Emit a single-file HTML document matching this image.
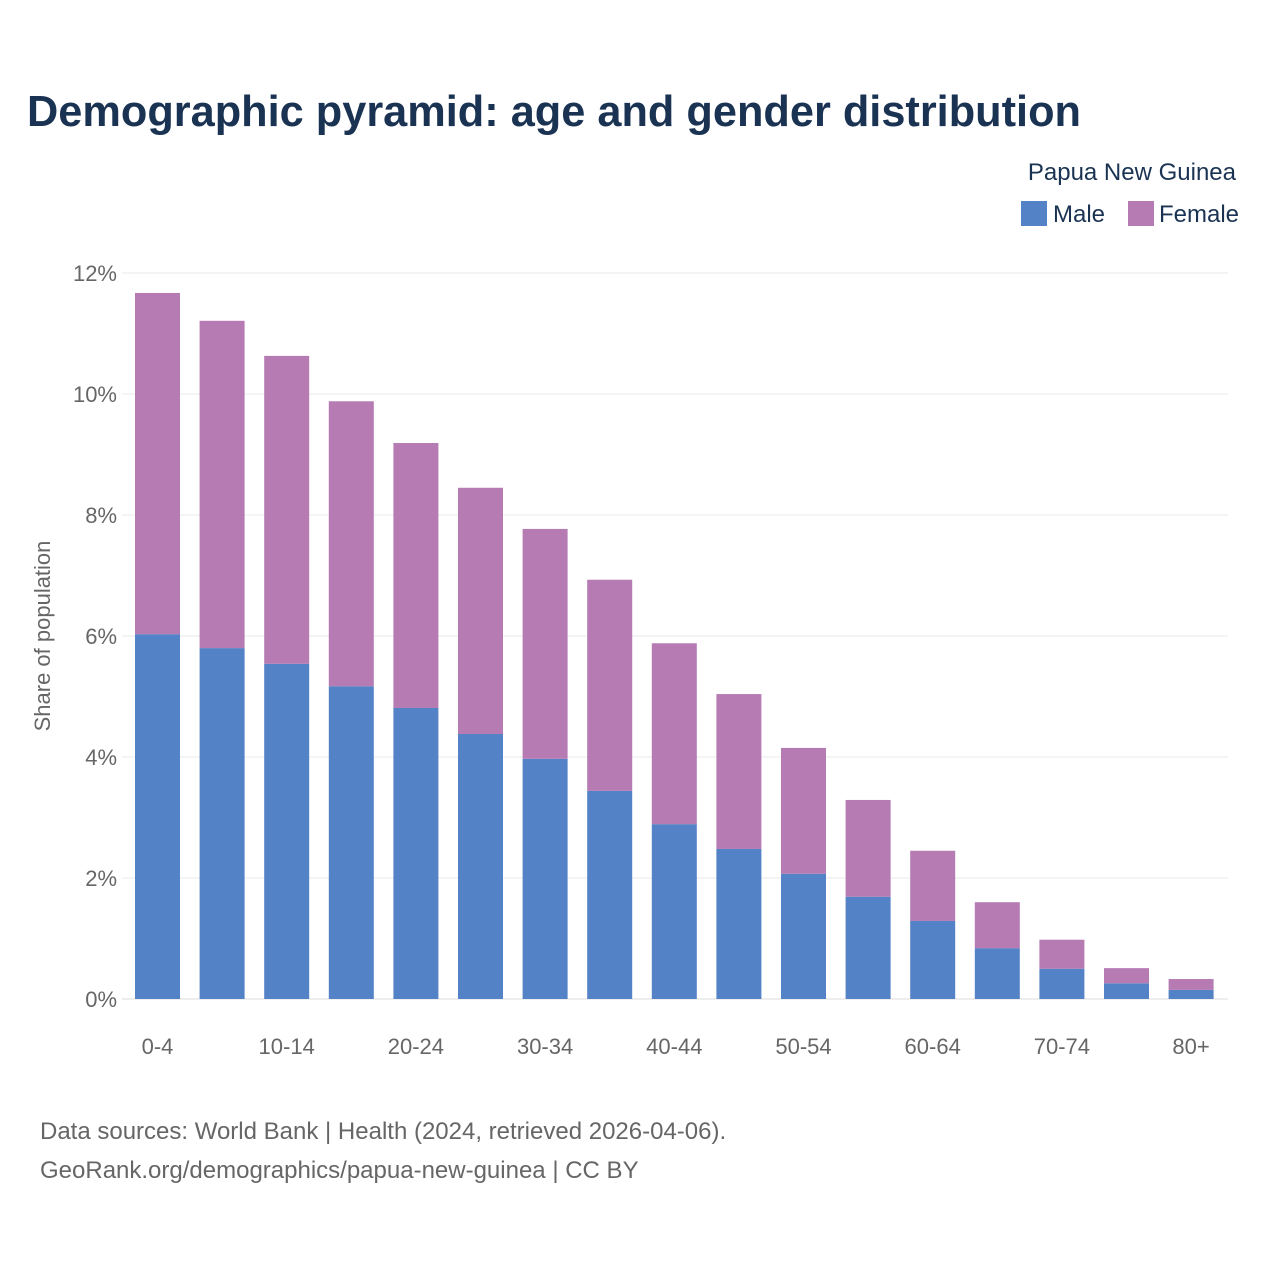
<!DOCTYPE html>
<html><head><meta charset="utf-8"><style>
body{margin:0;background:#fff;font-family:"Liberation Sans",sans-serif;}
#wrap{position:relative;width:1280px;height:1280px;}
</style></head><body>
<div id="wrap">
<svg id="chart" width="1280" height="1280">
<text x="27" y="126" font-size="44" font-weight="bold" fill="#1b3353" textLength="1054" lengthAdjust="spacingAndGlyphs">Demographic pyramid: age and gender distribution</text>
<text x="1236" y="180" font-size="24" fill="#1b3353" text-anchor="end">Papua New Guinea</text>
<g><rect x="1021" y="201" width="26" height="25" fill="#5482c6"/><text x="1053" y="222" font-size="24" fill="#1b3353">Male</text></g>
<g><rect x="1128" y="201" width="26" height="25" fill="#b67bb3"/><text x="1159" y="222" font-size="24" fill="#1b3353">Female</text></g>
<text transform="translate(50,636) rotate(-90)" font-size="22" fill="#666" text-anchor="middle">Share of population</text>
<g id="grid"></g><g id="bars"></g><g id="xlab"></g>
<text x="40" y="1139" font-size="24" fill="#666">Data sources: World Bank | Health (2024, retrieved 2026-04-06).</text>
<text x="40" y="1178" font-size="24" fill="#666">GeoRank.org/demographics/papua-new-guinea | CC BY</text>
</svg></div>
<script>
const categories=["0-4","5-9","10-14","15-19","20-24","25-29","30-34","35-39","40-44","45-49","50-54","55-59","60-64","65-69","70-74","75-79","80+"];
const male=[6.03,5.80,5.54,5.17,4.81,4.38,3.97,3.44,2.89,2.48,2.07,1.69,1.29,0.84,0.50,0.26,0.15];
const female=[5.64,5.41,5.09,4.71,4.38,4.07,3.80,3.49,2.99,2.56,2.08,1.60,1.16,0.76,0.48,0.25,0.18];
const yTicks=[0,2,4,6,8,10,12];
const NS="http://www.w3.org/2000/svg";
const y=v=>999-v*60.5;
const x=i=>157.5+i*64.6;
const g=document.getElementById('grid'),b=document.getElementById('bars'),xl=document.getElementById('xlab');
function mk(tag,attrs,parent){const e=document.createElementNS(NS,tag);for(const k in attrs)e.setAttribute(k,attrs[k]);parent.appendChild(e);return e;}
yTicks.forEach(t=>{
 const l=mk('line',{x1:122,x2:1228,y1:y(t),y2:y(t),stroke:t===0?'#ddd':'#e8e8e8','stroke-width':1},g);
 
 
 const tx=mk('text',{x:117,y:y(t)+8,'font-size':22,fill:'#666','text-anchor':'end'},g);
 tx.textContent=t+'%';
 
 
});
categories.forEach((c,i)=>{
 const r1=mk('rect',{x:x(i)-22.5,y:y(male[i]),width:45,height:male[i]*60.5,fill:'#5482c6'},b);
 
 
 const r2=mk('rect',{x:x(i)-22.5,y:y(male[i]+female[i]),width:45,height:female[i]*60.5,fill:'#b67bb3'},b);
 
 
 if(i%2===0){
  const t=mk('text',{x:x(i),y:1054,'font-size':22,fill:'#666','text-anchor':'middle'},xl);
  t.textContent=c;
  
  
 }
});
</script>
</body></html>
